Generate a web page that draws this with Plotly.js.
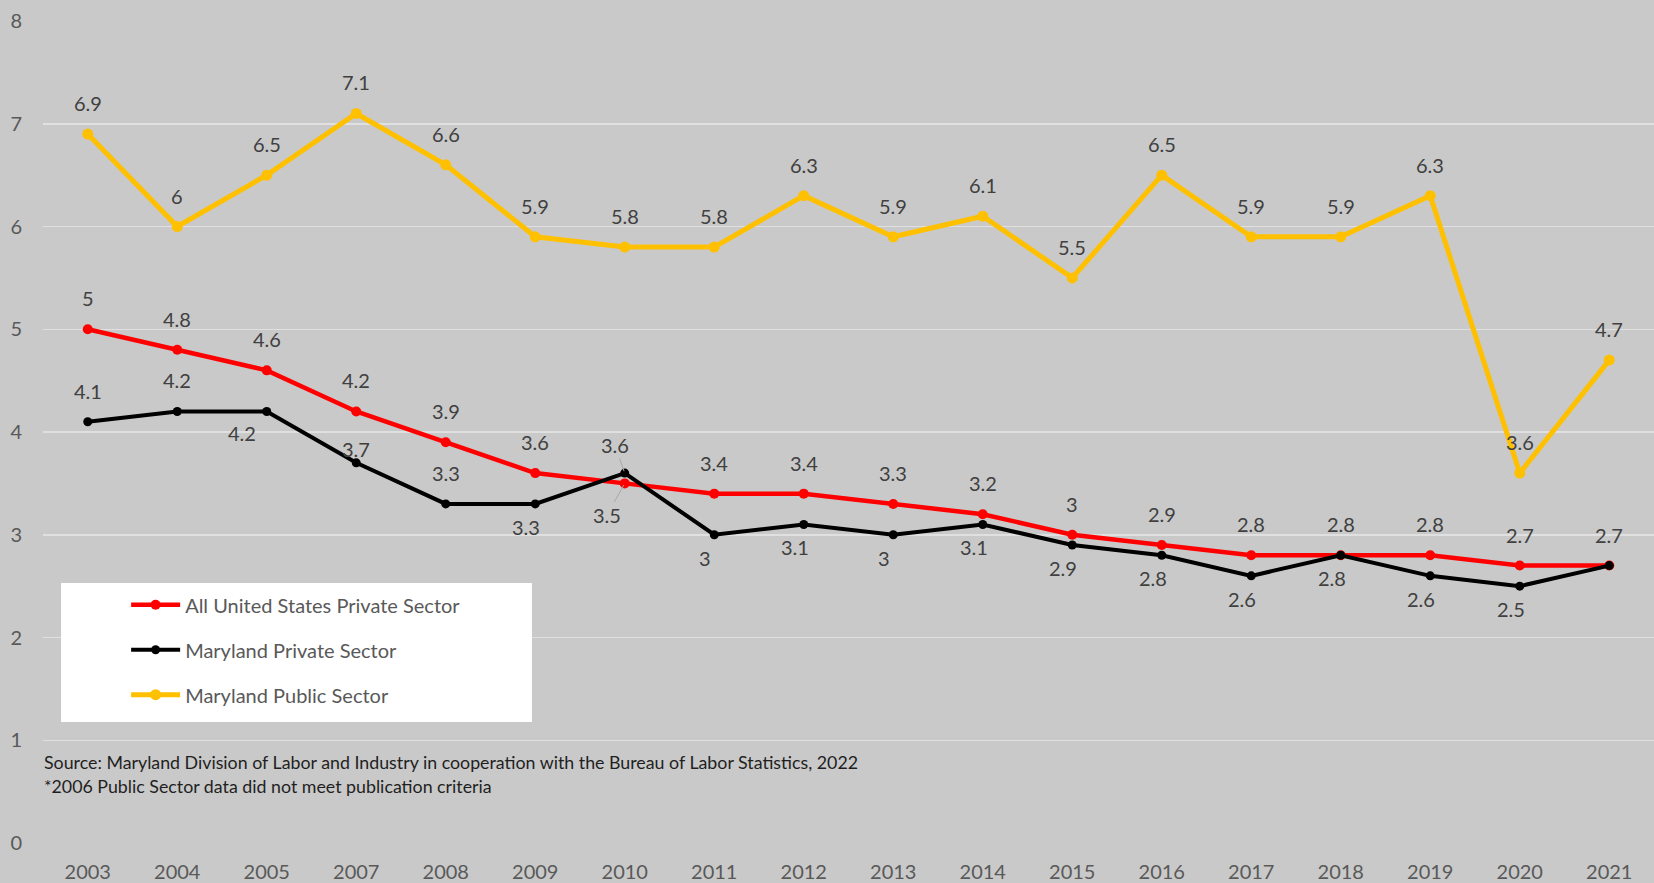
<!DOCTYPE html>
<html>
<head>
<meta charset="utf-8">
<script src="https://cdn.plot.ly/plotly-3.0.1.min.js"></script>
<style>
html,body{margin:0;padding:0;background:#c9c9c9;}
#chart{width:1654px;height:883px;}
</style>
</head>
<body>
<div id="chart"></div>
<script>
// ---- data ----
const years = ["2003","2004","2005","2007","2008","2009","2010","2011","2012","2013","2014","2015","2016","2017","2018","2019","2020","2021"];
const usPrivate = [5, 4.8, 4.6, 4.2, 3.9, 3.6, 3.5, 3.4, 3.4, 3.3, 3.2, 3.0, 2.9, 2.8, 2.8, 2.8, 2.7, 2.7];
const mdPrivate = [4.1, 4.2, 4.2, 3.7, 3.3, 3.3, 3.6, 3.0, 3.1, 3.0, 3.1, 2.9, 2.8, 2.6, 2.8, 2.6, 2.5, 2.7];
const mdPublic  = [6.9, 6.0, 6.5, 7.1, 6.6, 5.9, 5.8, 5.8, 6.3, 5.9, 6.1, 5.5, 6.5, 5.9, 5.9, 6.3, 3.6, 4.7];
const seriesNames = ["All United States Private Sector", "Maryland Private Sector", "Maryland Public Sector"];
const sourceLines = [
  "Source: Maryland Division of Labor and Industry in cooperation with the Bureau of Labor Statistics, 2022",
  "*2006 Public Sector data did not meet publication criteria"
];

// data-label placement keywords (per point)
const usLabelPos = ["above","above","above","above","above","above","belowlead","above","above","above","above","above","above","above","above","above","above","above"];
const mdLabelPos = ["above","above","belowleft","near","above","below","abovelead","below","below","below","below","below","below","below","below","below","below","none"];
const pubLabelPos = years.map(() => "above");

const SHIFTS = {
  above:     {dx: 0,   dy: 31},
  near:      {dx: 0,   dy: 14},
  below:     {dx: -9,  dy: -23},
  belowleft: {dx: -25, dy: -22},
  belowlead: {dx: -18, dy: -32, lead: true},
  abovelead: {dx: -10, dy: 28, lead: true}
};

const FONT = "Lato, 'Open Sans', sans-serif";
const labelFont = {family: FONT, size: 20, color: "#404040"};

function trace(name, vals, color, lw, ms, group) {
  return {
    x: years, y: vals, name: name, type: "scatter", mode: "lines+markers",
    line: {color: color, width: lw}, marker: {color: color, size: ms},
    legendgroup: group, cliponaxis: false, hoverinfo: "x+y"
  };
}

function labels(vals, pos) {
  const out = [];
  vals.forEach((v, i) => {
    const s = SHIFTS[pos[i]];
    if (!s) return;
    if (s.lead) {
      out.push({
        x: i, y: v, xref: "x", yref: "y", text: String(v), showarrow: true,
        arrowhead: 0, arrowwidth: 1, arrowcolor: "#a8a8a8", standoff: 2,
        ax: s.dx, ay: -s.dy, xanchor: "center", yanchor: "middle",
        font: labelFont
      });
    } else {
      out.push({
        x: i, y: v, xref: "x", yref: "y", text: String(v), showarrow: false,
        xanchor: "center", yanchor: "middle", xshift: s.dx, yshift: s.dy,
        font: labelFont
      });
    }
  });
  return out;
}

const data = [
  trace(seriesNames[0], usPrivate, "#ff0000", 4.5, 10, "a"),
  trace(seriesNames[1], mdPrivate, "#000000", 4, 9, "b"),
  trace(seriesNames[2], mdPublic, "#ffc000", 5, 11, "c")
];

const sourceAnn = sourceLines.map((t, i) => ({
  text: t, xref: "paper", yref: "paper", x: -0.0006, y: [0.0985, 0.0693][i],
  xanchor: "left", yanchor: "middle", showarrow: false,
  font: {family: FONT, size: 17.8, color: "#1f1f1f"}
}));

const layout = {
  width: 1654, height: 883,
  paper_bgcolor: "#c9c9c9", plot_bgcolor: "#c9c9c9",
  margin: {l: 43, r: 0, t: 21, b: 40, pad: 0},
  font: {family: FONT, color: "#595959", size: 20},
  showlegend: true,
  xaxis: {
    type: "category", range: [-0.5, 17.5], showgrid: false, zeroline: false,
    showline: false, ticks: "", tickfont: {family: FONT, size: 20, color: "#595959"},
    ticklabelstandoff: 15, fixedrange: true
  },
  yaxis: {
    range: [0, 8], dtick: 1, showgrid: true, gridcolor: "#e0e0e0", gridwidth: 1.5,
    zeroline: false, showline: false, ticks: "",
    tickfont: {family: FONT, size: 20, color: "#595959"},
    ticklabelstandoff: 20, fixedrange: true
  },
  legend: {
    x: 0.0516, y: 0.3136, xanchor: "left", yanchor: "top",
    bgcolor: "rgba(0,0,0,0)", borderwidth: 0,
    font: {family: FONT, size: 20, color: "#595959"},
    itemwidth: 49, tracegroupgap: 16, traceorder: "grouped"
  },
  shapes: [{
    type: "rect", xref: "paper", yref: "paper", layer: "above",
    x0: 0.0112, x1: 0.3035, y0: 0.1472, y1: 0.3163,
    fillcolor: "#ffffff", line: {width: 0}
  }],
  annotations: [].concat(
    labels(usPrivate, usLabelPos),
    labels(mdPrivate, mdLabelPos),
    labels(mdPublic, pubLabelPos),
    sourceAnn
  )
};

Plotly.newPlot("chart", data, layout, {displayModeBar: false, staticPlot: true});
</script>
</body>
</html>
